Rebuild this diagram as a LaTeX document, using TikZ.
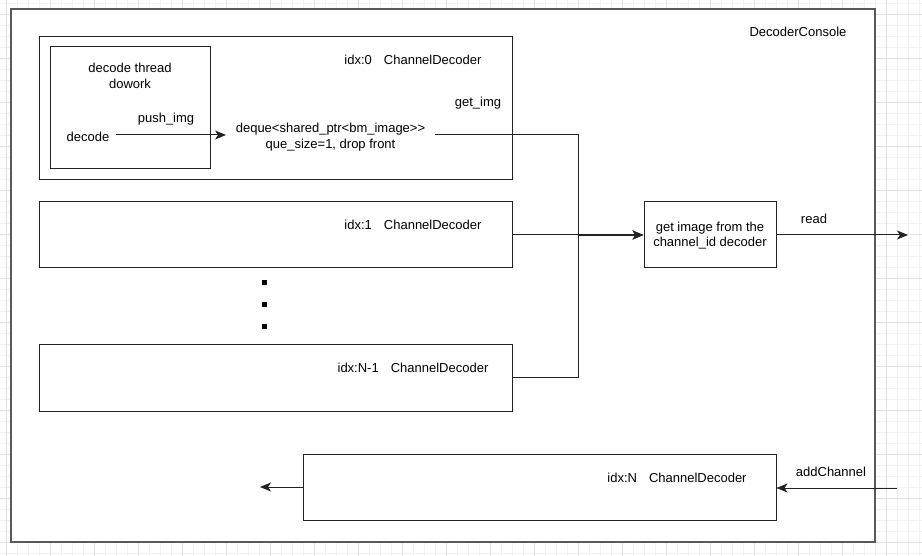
\documentclass[tikz,border=0pt]{standalone}
\usepackage{fontspec}
\setmainfont{Liberation Sans}
\usetikzlibrary{arrows.meta}
\definecolor{gridminor}{HTML}{F2F2F2}
\definecolor{gridmajor}{HTML}{E2E2E2}
\definecolor{boxline}{HTML}{222222}
\begin{document}
\begin{tikzpicture}[x=1pt,y=-1pt,
  box/.style={draw=boxline,line width=1pt,fill=white,minimum width=#1,inner sep=0pt},
  lbl/.style={inner sep=0pt,font=\fontsize{13}{15.5}\selectfont,align=center,yshift=-1.5pt},
  conn/.style={draw=boxline,line width=1pt},
  arr/.style={conn,-{Stealth[length=11pt,width=9pt,inset=3pt]}},
  dotsq/.style={fill=black,minimum size=5pt,inner sep=0pt}]
\useasboundingbox (0,0) rectangle (922,556);
\fill[white] (0,0) rectangle (922,556);
% grid
\foreach \i in {0,...,83} {\draw[gridminor,line width=0.8pt] ({6+11*\i},0) -- ({6+11*\i},556);}
\foreach \i in {0,...,50} {\draw[gridminor,line width=0.8pt] (0,{3.3+11*\i}) -- (922,{3.3+11*\i});}
\foreach \i in {0,...,20} {\draw[gridmajor,line width=0.8pt] ({6+44*\i},0) -- ({6+44*\i},556);}
\foreach \i in {0,...,12} {\draw[gridmajor,line width=0.8pt] (0,{14.3+44*\i}) -- (922,{14.3+44*\i});}
% outer
\node[draw=black!65,line width=1.6pt,fill=white,minimum width=864pt,minimum height=533pt,inner sep=0pt] (outer) at (443,275.5) {};
\node[lbl] (title) at (798,30) {DecoderConsole};
% channel boxes
\node[box=473pt,minimum height=143pt] (c0) at (275.5,108.5) {};
\node[box=160pt,minimum height=122pt] (thr) at (130,108) {};
\node[box=473pt,minimum height=66pt] (c1) at (275.5,235) {};
\node[box=473pt,minimum height=66pt] (cn1) at (275.5,378) {};
\node[box=473pt,minimum height=66pt] (cn) at (539.5,487) {};
\node[box=132pt,minimum height=66pt] (get) at (710,235) {};
\node[lbl] (getl) at (710,234) {get image from the\\channel\_id decoder};
% labels
\node[lbl] (l0) at (413,58) {idx:0\hspace{12pt}ChannelDecoder};
\node[lbl] (l1) at (413,223) {idx:1\hspace{12pt}ChannelDecoder};
\node[lbl] (ln1) at (413,366) {idx:N-1\hspace{12pt}ChannelDecoder};
\node[lbl] (ln) at (677,476) {idx:N\hspace{12pt}ChannelDecoder};
\node[lbl] (thrl) at (130,74.5) {decode thread\\dowork};
\node[lbl] (push) at (166,118) {push\_img};
\node[lbl,inner xsep=4pt] (dec) at (88,135) {decode};
\node[lbl,inner xsep=9pt] (deque) at (330.5,135.5) {deque<shared\_ptr<bm\_image>{}>\\que\_size=1, drop front};
\node[lbl] (gimg) at (478,102) {get\_img};
\node[lbl] (read) at (814,217) {read};
\node[lbl] (addc) at (831,470) {addChannel};
% dots
\node[dotsq] (d1) at (264,283) {};
\node[dotsq] (d2) at (264,305) {};
\node[dotsq] (d3) at (264,327) {};
% coordinates
\coordinate (j1) at (578,135);
\coordinate (j2) at (578,378);
\coordinate (j3) at (578,235);
\coordinate (rout) at (908,235);
\coordinate (ain) at (897,488);
\coordinate (nout) at (260,487);
% connectors
\draw[arr] (116,135) -- (226,135);
\draw[conn] (435,135) -- (j1) -- (j2) -- (cn1.east |- j2);
\draw[arr] (c1.east) -- (get.west);
\draw[arr,line width=1.6pt] (j3) -- (get.west);
\draw[arr] (get.east) -- (rout);
\draw[arr] (ain) -- (cn.east |- ain);
\draw[arr] (cn.west) -- (nout);
\end{tikzpicture}
\end{document}
